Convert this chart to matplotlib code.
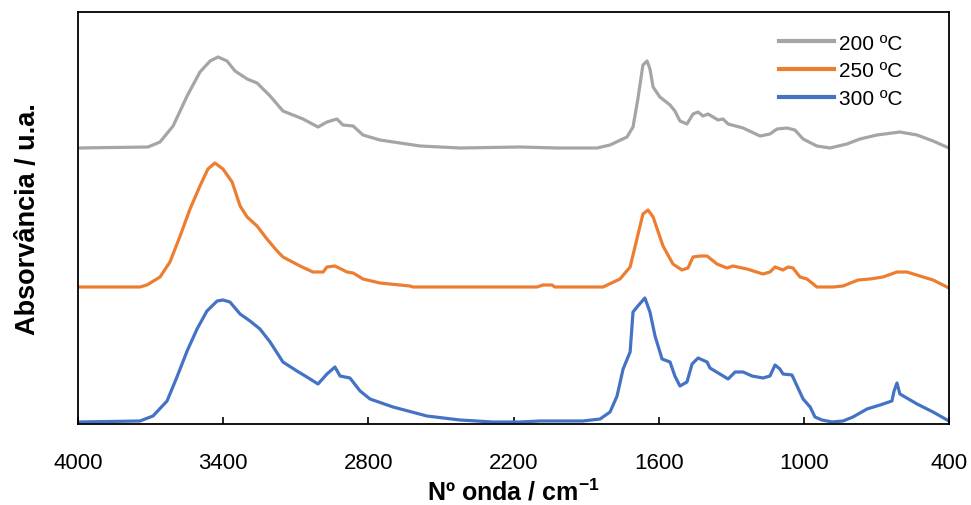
import matplotlib.pyplot as plt

plt.rcParams['font.family'] = ['Liberation Sans', 'DejaVu Sans']
plt.rcParams['mathtext.fontset'] = 'custom'
plt.rcParams['mathtext.bf'] = 'Liberation Sans:bold'
plt.rcParams['mathtext.rm'] = 'Liberation Sans'

# espectros FTIR (curvas desfasadas verticalmente, u.a.)
wn_200 = [4000, 3711, 3661, 3607, 3549, 3496, 3454, 3421, 3384, 3351, 3301, 3260, 3206, 3153,
          3070, 3008, 2971, 2930, 2905, 2863, 2822, 2752, 2586, 2421, 2173, 2020, 1855, 1801,
          1731, 1706, 1686, 1665, 1648, 1636, 1623, 1595, 1553, 1533, 1512, 1483, 1458, 1437,
          1417, 1396, 1375, 1355, 1334, 1313, 1251, 1181, 1140, 1111, 1070, 1037, 1003, 946,
          892, 822, 768, 698, 603, 532, 466, 400]
abs_200 = [2.76, 2.77, 2.82, 2.98, 3.28, 3.52, 3.63, 3.67, 3.63, 3.53, 3.45, 3.41, 3.28, 3.13,
           3.05, 2.97, 3.02, 3.05, 2.99, 2.98, 2.89, 2.84, 2.78, 2.76, 2.77, 2.76, 2.76, 2.79,
           2.87, 2.97, 3.25, 3.59, 3.63, 3.55, 3.37, 3.27, 3.19, 3.13, 3.03, 3.00, 3.10, 3.12,
           3.08, 3.10, 3.07, 3.04, 3.05, 3.00, 2.96, 2.88, 2.90, 2.95, 2.96, 2.94, 2.85, 2.78,
           2.76, 2.80, 2.85, 2.89, 2.92, 2.89, 2.83, 2.76]

wn_250 = [4000, 3744, 3715, 3661, 3620, 3578, 3537, 3496, 3463, 3434, 3401, 3363, 3330, 3301,
          3260, 3219, 3177, 3153, 3082, 3029, 2987, 2971, 2938, 2888, 2863, 2822, 2752, 2628,
          2615, 2173, 2103, 2078, 2041, 2029, 1830, 1760, 1718, 1690, 1665, 1644, 1623, 1582,
          1541, 1504, 1479, 1458, 1429, 1400, 1359, 1318, 1293, 1235, 1169, 1140, 1119, 1086,
          1065, 1045, 1016, 987, 946, 879, 838, 776, 727, 673, 615, 574, 520, 466, 400]
abs_250 = [1.37, 1.37, 1.39, 1.47, 1.62, 1.88, 2.15, 2.38, 2.55, 2.61, 2.55, 2.42, 2.18, 2.07,
           1.98, 1.85, 1.73, 1.67, 1.58, 1.52, 1.52, 1.57, 1.58, 1.52, 1.51, 1.45, 1.41, 1.38,
           1.37, 1.37, 1.37, 1.39, 1.39, 1.37, 1.37, 1.45, 1.57, 1.85, 2.10, 2.14, 2.07, 1.78,
           1.60, 1.54, 1.56, 1.67, 1.68, 1.68, 1.60, 1.56, 1.58, 1.55, 1.50, 1.52, 1.57, 1.54,
           1.57, 1.56, 1.47, 1.45, 1.37, 1.37, 1.38, 1.44, 1.45, 1.47, 1.52, 1.52, 1.48, 1.44, 1.36]

wn_300 = [4000, 3744, 3690, 3632, 3591, 3549, 3508, 3467, 3425, 3401, 3372, 3330, 3289, 3248,
          3206, 3153, 3095, 3054, 3008, 2971, 2938, 2917, 2876, 2834, 2793, 2698, 2558, 2421,
          2285, 2173, 2090, 1913, 1842, 1801, 1772, 1747, 1718, 1706, 1686, 1657, 1636, 1615,
          1586, 1553, 1533, 1512, 1483, 1462, 1437, 1400, 1388, 1347, 1313, 1284, 1251, 1214,
          1169, 1140, 1119, 1099, 1086, 1049, 1028, 1003, 974, 954, 925, 884, 838, 797, 739,
          685, 636, 627, 615, 603, 532, 466, 400]
abs_300 = [0.02, 0.03, 0.08, 0.23, 0.47, 0.73, 0.95, 1.13, 1.23, 1.24, 1.22, 1.10, 1.03, 0.95,
           0.82, 0.62, 0.53, 0.47, 0.40, 0.50, 0.57, 0.48, 0.46, 0.33, 0.25, 0.17, 0.08, 0.04,
           0.02, 0.02, 0.03, 0.03, 0.05, 0.12, 0.28, 0.55, 0.72, 1.12, 1.18, 1.26, 1.12, 0.88,
           0.65, 0.62, 0.48, 0.38, 0.42, 0.60, 0.66, 0.62, 0.56, 0.50, 0.45, 0.52, 0.52, 0.48,
           0.46, 0.48, 0.59, 0.55, 0.50, 0.49, 0.38, 0.25, 0.17, 0.07, 0.04, 0.02, 0.03, 0.07, 0.15,
           0.19, 0.23, 0.33, 0.41, 0.30, 0.20, 0.12, 0.03]

labels = ['200 ºC', '250 ºC', '300 ºC']
colors = ['#A5A5A5', '#ED7D31', '#4472C4']

fig = plt.figure(figsize=(9.71, 5.06), dpi=100)
ax = fig.add_axes([78 / 971, 1 - 425 / 506, 871 / 971, 412 / 506])

for x, y, lab, c in zip([wn_200, wn_250, wn_300], [abs_200, abs_250, abs_300], labels, colors):
    ax.plot(x, y, color=c, lw=2.3, label=lab, solid_joinstyle='round')

ax.set_xlim(4000, 400)
ax.set_ylim(0, 4.12)
ax.set_xticks([4000, 3400, 2800, 2200, 1600, 1000, 400])
ax.set_yticks([])
ax.tick_params(axis='x', direction='in', length=5, width=1.2, pad=20, labelsize=16)
for s in ax.spines.values():
    s.set_linewidth(1.3)

ax.set_xlabel(r'Nº onda / cm$^{\mathbf{-1}}$', fontsize=18, fontweight='bold', va='baseline')
ax.xaxis.set_label_coords(0.5, -0.184)
ax.set_ylabel('Absorvância / u.a.', fontsize=19.5, fontweight='bold', labelpad=27)

leg = ax.legend(loc='upper right', bbox_to_anchor=(0.956, 0.968), frameon=False, fontsize=15,
                handlelength=2.6, handletextpad=0.25, labelspacing=0.42, borderaxespad=0)
for h in leg.get_lines():
    h.set_linewidth(3)

fig.savefig('out.png', dpi=100)
